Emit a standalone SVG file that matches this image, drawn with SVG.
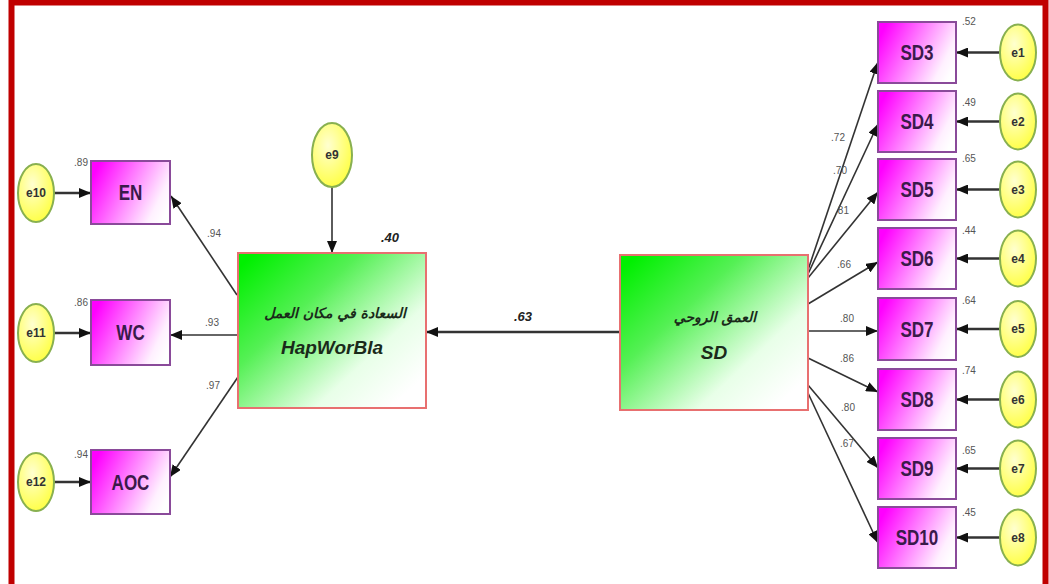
<svg xmlns="http://www.w3.org/2000/svg" width="1049" height="584" viewBox="0 0 1049 584">
<defs>
<linearGradient id="gMag" x1="0" y1="0.3" x2="1" y2="0.7">
<stop offset="0" stop-color="#ff00ff"/>
<stop offset="0.45" stop-color="#ff80ff"/>
<stop offset="0.85" stop-color="#fff0ff"/>
<stop offset="1" stop-color="#ffffff"/>
</linearGradient>
<linearGradient id="gGreen" x1="0" y1="0.1" x2="0.9" y2="0.9">
<stop offset="0" stop-color="#00f000"/>
<stop offset="0.35" stop-color="#55f055"/>
<stop offset="0.75" stop-color="#e8ffe8"/>
<stop offset="1" stop-color="#ffffff"/>
</linearGradient>
<radialGradient id="gYel" cx="0.4" cy="0.35" r="0.7">
<stop offset="0" stop-color="#ffffd0"/>
<stop offset="1" stop-color="#ffff40"/>
</radialGradient>
<marker id="ah" viewBox="0 0 12 10" refX="12" refY="5" markerWidth="12" markerHeight="10" markerUnits="userSpaceOnUse" orient="auto">
<path d="M0,0 L12,5 L0,10 Z" fill="#111"/>
</marker>
</defs>
<style>
.obs{fill:url(#gMag);stroke:#8a4a9a;stroke-width:2}
.lat{fill:url(#gGreen);stroke:#e87070;stroke-width:2}
.err{fill:url(#gYel);stroke:#88b050;stroke-width:2}
.lbl{font-family:"Liberation Sans",Arial,sans-serif;font-weight:bold;font-size:17px;fill:#3a1a4a;text-anchor:middle}
.elbl{font-family:"Liberation Sans",Arial,sans-serif;font-weight:bold;font-size:12px;fill:#333;text-anchor:middle}
.num{font-family:"Liberation Sans",Arial,sans-serif;font-size:10px;fill:#555}
.big{font-family:"Liberation Sans",Arial,sans-serif;font-weight:bold;font-style:italic;font-size:19px;fill:#1a2a1a;text-anchor:middle}
.ar{font-family:"DejaVu Sans","Noto Sans",sans-serif;font-weight:bold;font-style:italic;font-size:14px;fill:#1a2a1a;text-anchor:middle}
.bnum{font-family:"Liberation Sans",Arial,sans-serif;font-weight:bold;font-style:italic;font-size:13px;fill:#222}
.arr{stroke:#333;stroke-width:1.6;fill:none;marker-end:url(#ah)}
.arrT{stroke:#333;stroke-width:2.6;fill:none;marker-end:url(#ah)}
</style>
<rect x="0" y="0" width="1049" height="584" fill="#ffffff"/>
<rect x="11.5" y="2.5" width="1034" height="620" fill="none" stroke="#c00000" stroke-width="6"/>

<g id="connectors">
<line class="arrT" x1="54" y1="193" x2="91" y2="193"/>
<line class="arrT" x1="54" y1="333" x2="91" y2="333"/>
<line class="arrT" x1="54" y1="482" x2="91" y2="482"/>
<line class="arr" x1="332" y1="187" x2="332" y2="253"/>
<line class="arr" x1="237" y1="295" x2="171" y2="196"/>
<line class="arr" x1="238" y1="335" x2="170" y2="335"/>
<line class="arr" x1="238" y1="377" x2="170" y2="477"/>
<line class="arrT" x1="620" y1="332" x2="426" y2="332"/>
<line class="arr" x1="808" y1="270" x2="878" y2="62"/>
<line class="arr" x1="808" y1="274" x2="878" y2="124"/>
<line class="arr" x1="808" y1="278" x2="878" y2="192"/>
<line class="arr" x1="808" y1="304" x2="878" y2="262"/>
<line class="arr" x1="808" y1="331" x2="878" y2="331"/>
<line class="arr" x1="808" y1="358" x2="878" y2="392"/>
<line class="arr" x1="808" y1="385" x2="878" y2="468"/>
<line class="arr" x1="808" y1="393" x2="878" y2="543"/>
<line class="arrT" x1="1000" y1="52.5" x2="956" y2="52.5"/>
<line class="arrT" x1="1000" y1="121.5" x2="956" y2="121.5"/>
<line class="arrT" x1="1000" y1="189.5" x2="956" y2="189.5"/>
<line class="arrT" x1="1000" y1="258.5" x2="956" y2="258.5"/>
<line class="arrT" x1="1000" y1="329" x2="956" y2="329"/>
<line class="arrT" x1="1000" y1="399.5" x2="956" y2="399.5"/>
<line class="arrT" x1="1000" y1="468.5" x2="956" y2="468.5"/>
<line class="arrT" x1="1000" y1="537.5" x2="956" y2="537.5"/>
<text class="num" x="214" y="237" text-anchor="middle">.94</text>
<text class="num" x="212" y="326" text-anchor="middle">.93</text>
<text class="num" x="213" y="389" text-anchor="middle">.97</text>
<text class="bnum" x="523" y="321" text-anchor="middle">.63</text>
<text class="num" x="838" y="141" text-anchor="middle">.72</text>
<text class="num" x="840" y="174" text-anchor="middle">.70</text>
<text class="num" x="842" y="214" text-anchor="middle">.81</text>
<text class="num" x="844" y="268" text-anchor="middle">.66</text>
<text class="num" x="847" y="322" text-anchor="middle">.80</text>
<text class="num" x="847" y="362" text-anchor="middle">.86</text>
<text class="num" x="848" y="411" text-anchor="middle">.80</text>
<text class="num" x="847" y="447" text-anchor="middle">.67</text>
</g>

<g id="e10"><ellipse class="err" cx="36" cy="193" rx="18" ry="29"/><text class="elbl" x="36" y="197">e10</text></g>
<g id="e11"><ellipse class="err" cx="36" cy="333" rx="18" ry="29"/><text class="elbl" x="36" y="337">e11</text></g>
<g id="e12"><ellipse class="err" cx="36" cy="482" rx="18" ry="29"/><text class="elbl" x="36" y="486">e12</text></g>
<g id="e9"><ellipse class="err" cx="332" cy="155" rx="20" ry="32"/><text class="elbl" x="332" y="159">e9</text></g>

<g id="EN"><rect class="obs" x="91" y="161" width="79" height="63"/><text class="lbl" transform="translate(130.5,200) scale(1,1.25)">EN</text><text class="num" x="88" y="166" text-anchor="end">.89</text></g>
<g id="WC"><rect class="obs" x="91" y="300" width="79" height="65"/><text class="lbl" transform="translate(130.5,340) scale(1,1.25)">WC</text><text class="num" x="88" y="306" text-anchor="end">.86</text></g>
<g id="AOC"><rect class="obs" x="91" y="450" width="79" height="64"/><text class="lbl" transform="translate(130.5,489.5) scale(1,1.25)">AOC</text><text class="num" x="88" y="458" text-anchor="end">.94</text></g>

<g id="HapWorBla"><rect class="lat" x="238" y="253" width="188" height="155"/>
<text class="ar" x="335" y="318" direction="rtl">السعادة في مكان العمل</text>
<text class="big" x="332" y="354">HapWorBla</text>
<text class="bnum" x="390" y="242" text-anchor="middle">.40</text></g>

<g id="SD"><rect class="lat" x="620" y="255" width="188" height="155"/>
<text class="ar" x="715" y="322" direction="rtl">العمق الروحي</text>
<text class="big" x="714" y="359">SD</text></g>

<g id="SD3"><rect class="obs" x="878" y="22" width="78" height="61"/><text class="lbl" transform="translate(917,60) scale(1,1.25)">SD3</text><text class="num" x="962" y="25">.52</text></g>
<g id="SD4"><rect class="obs" x="878" y="91" width="78" height="61"/><text class="lbl" transform="translate(917,129) scale(1,1.25)">SD4</text><text class="num" x="962" y="106">.49</text></g>
<g id="SD5"><rect class="obs" x="878" y="159" width="78" height="61"/><text class="lbl" transform="translate(917,197) scale(1,1.25)">SD5</text><text class="num" x="962" y="162">.65</text></g>
<g id="SD6"><rect class="obs" x="878" y="228" width="78" height="61"/><text class="lbl" transform="translate(917,266) scale(1,1.25)">SD6</text><text class="num" x="962" y="234">.44</text></g>
<g id="SD7"><rect class="obs" x="878" y="298" width="78" height="62"/><text class="lbl" transform="translate(917,336.5) scale(1,1.25)">SD7</text><text class="num" x="962" y="304">.64</text></g>
<g id="SD8"><rect class="obs" x="878" y="369" width="78" height="61"/><text class="lbl" transform="translate(917,407) scale(1,1.25)">SD8</text><text class="num" x="962" y="374">.74</text></g>
<g id="SD9"><rect class="obs" x="878" y="438" width="78" height="61"/><text class="lbl" transform="translate(917,476) scale(1,1.25)">SD9</text><text class="num" x="962" y="454">.65</text></g>
<g id="SD10"><rect class="obs" x="878" y="507" width="78" height="61"/><text class="lbl" transform="translate(917,545) scale(1,1.25)">SD10</text><text class="num" x="962" y="516">.45</text></g>

<g id="e1"><ellipse class="err" cx="1018" cy="52.5" rx="18" ry="28"/><text class="elbl" x="1018" y="56.5">e1</text></g>
<g id="e2"><ellipse class="err" cx="1018" cy="121.5" rx="18" ry="28"/><text class="elbl" x="1018" y="125.5">e2</text></g>
<g id="e3"><ellipse class="err" cx="1018" cy="189.5" rx="18" ry="28"/><text class="elbl" x="1018" y="193.5">e3</text></g>
<g id="e4"><ellipse class="err" cx="1018" cy="258.5" rx="18" ry="28"/><text class="elbl" x="1018" y="262.5">e4</text></g>
<g id="e5"><ellipse class="err" cx="1018" cy="329" rx="18" ry="28"/><text class="elbl" x="1018" y="333">e5</text></g>
<g id="e6"><ellipse class="err" cx="1018" cy="399.5" rx="18" ry="28"/><text class="elbl" x="1018" y="403.5">e6</text></g>
<g id="e7"><ellipse class="err" cx="1018" cy="468.5" rx="18" ry="28"/><text class="elbl" x="1018" y="472.5">e7</text></g>
<g id="e8"><ellipse class="err" cx="1018" cy="537.5" rx="18" ry="28"/><text class="elbl" x="1018" y="541.5">e8</text></g>
</svg>
